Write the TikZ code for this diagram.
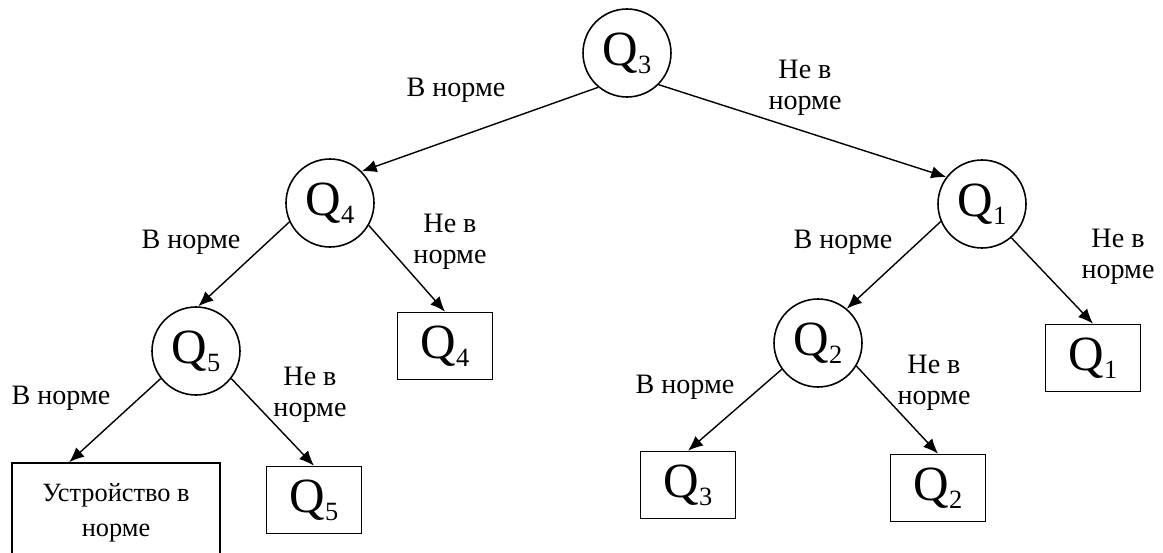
\documentclass[tikz,border=0pt]{standalone}
\usepackage{fontspec}
\setmainfont{Liberation Serif}
\usetikzlibrary{arrows.meta,positioning}

% Q with a lowered index
\newcommand{\qsub}[1]{Q\raisebox{-0.17cm}[0pt][0pt]{\fontsize{15}{15}\selectfont #1}}

\begin{document}
\begin{tikzpicture}[
        qnode/.style={circle, draw, line width=0.9pt, minimum size=1.76cm, inner sep=0pt, font=\fontsize{28}{30}\selectfont},
        leaf/.style={rectangle, draw, line width=0.9pt, minimum width=1.9cm, minimum height=1.34cm, inner sep=0pt, font=\fontsize{28}{30}\selectfont},
        lbl/.style={align=center, font=\fontsize{16}{17.6}\selectfont},
        arrow/.style={-{Latex[length=0.3cm,width=0.25cm]}, line width=0.8pt}
    ]
        \useasboundingbox (0,0) rectangle (23.26,-11.06);

        % Questions
        \node[qnode] (q3) at (12.54,-1.06) {\qsub{3}};
        \node[qnode] (q4) at (6.6,-4.06) {\qsub{4}};
        \node[qnode] (q1) at (19.64,-4.08) {\qsub{1}};
        \node[qnode] (q5) at (3.92,-7.02) {\qsub{5}};
        \node[qnode] (q2) at (16.36,-6.86) {\qsub{2}};

        % Outcomes
        \node[leaf] (b4) at (8.9,-6.92) {\qsub{4}};
        \node[leaf] (b1) at (21.86,-7.16) {\qsub{1}};
        \node[leaf] (b5) at (6.28,-10.0) {\qsub{5}};
        \node[leaf] (b3) at (13.76,-9.7) {\qsub{3}};
        \node[leaf] (b2) at (18.76,-9.76) {\qsub{2}};
        \node[leaf, minimum width=4.16cm, minimum height=2cm, align=center,
              font=\fontsize{15}{20}\selectfont] (dev) at (2.32,-10.26) {Устройство в\\норме};

        % Branches
        \draw[arrow] (q3.230) -- (q4.45);
        \draw[arrow] (q3.315) -- (q1.143);
        \draw[arrow] (q4.205) -- (q5.87);
        \draw[arrow] (q4.330) -- (b4.north);
        \draw[arrow] (q1.203) -- (q2.50);
        \draw[arrow] (q1.311) -- (b1.north);
        \draw[arrow] (q5.218) -- ([xshift=1.16cm]dev.north west);
        \draw[arrow] (q5.322) -- (b5.north);
        \draw[arrow] (q2.216) -- (b3.north);
        \draw[arrow] (q2.329) -- (b2.north);

        % Labels
        \node[lbl] (l1) at (9.12,-1.80) {В норме};
        \node[lbl] (l2) at (16.1,-1.76) {Не в\\норме};
        \node[lbl] (l3) at (3.82,-4.84) {В норме};
        \node[lbl] (l4) at (9.0,-4.84) {Не в\\норме};
        \node[lbl] (l5) at (16.86,-4.84) {В норме};
        \node[lbl] (l6) at (22.36,-5.14) {Не в\\норме};
        \node[lbl] (l7) at (1.22,-7.96) {В норме};
        \node[lbl] (l8) at (6.2,-7.9) {Не в\\норме};
        \node[lbl] (l9) at (13.7,-7.74) {В норме};
        \node[lbl] (l10) at (18.68,-7.66) {Не в\\норме};

    \end{tikzpicture}
\end{document}
